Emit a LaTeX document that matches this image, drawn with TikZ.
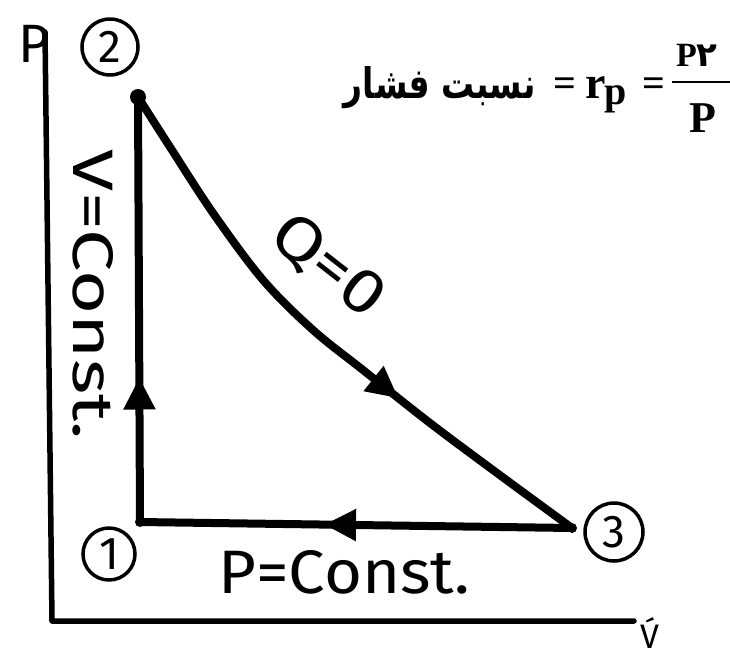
\documentclass[tikz,border=0pt]{standalone}
\usepackage{fontspec}
\usepackage{graphicx}
\usetikzlibrary{arrows.meta,decorations.markings}
\TeXXeTstate=1
\setmainfont{Liberation Serif}
\newfontfamily\handfont{Fira Sans}
\newfontfamily\arabicfont[Script=Arabic]{DejaVu Sans}
\newcommand\myfs[1]{\fontsize{#1}{#1}\selectfont}
\tikzset{
  axisline/.style={line width=5.5pt, line cap=round, line join=round},
  procline/.style={line width=8pt, line cap=round, line join=round},
  statecircle/.style={circle, draw, line width=3.5pt, inner sep=0pt, font=\handfont\myfs{46}},
  handlabel/.style={inner sep=0pt, font=\handfont\myfs{40}},
  toptext/.style={inner sep=0pt, font=\bfseries\myfs{40}},
  midarrow/.style={postaction={decorate}, decoration={markings, mark=at position #1 with {\arrow{Triangle[length=32pt,width=30pt]}}}},
}
\begin{document}
\begin{tikzpicture}[x=1pt,y=-1pt]
\useasboundingbox (0,0) rectangle (730,659);
% axes
\coordinate (ytop) at (45,32);
\coordinate (origin) at (52,621);
\coordinate (xend) at (634,621);
\draw[axisline] (ytop) -- (origin) -- (xend);
\node[handlabel, font=\handfont\myfs{54}] (plabel) at (34,44) {P};
\node[handlabel, anchor=base, font=\handfont\myfs{34}] (vlabel) at (650,648) {\'V};
% states
\coordinate (n2) at (138,97);
\coordinate (n1) at (140,522);
\coordinate (n3) at (572,528);
\node[statecircle, minimum size=56pt] (c2) at (110,47) {2};
\node[statecircle, minimum size=52pt] (c1) at (109,554) {1};
\node[statecircle, minimum size=58pt] (c3) at (614,532) {3};
% processes
\draw[procline, midarrow=0.34] (n1) -- (n2);
\draw[procline, midarrow=0.574] (n3) -- (n1);
\draw[procline, midarrow=0.65] plot[smooth, tension=0.55] coordinates {(n2) (170,147) (213,213) (263,280) (313,330) (363,370) (430,423) (497,473) (n3)};
\fill (n2) circle (8pt);
\fill (n1) circle (5pt);
\fill (n3) circle (5pt);
% hand labels
\node[handlabel, rotate=-90] (vconst) at (93,295) {\resizebox{290pt}{40pt}{V=Const.}};
\node[handlabel, anchor=base west] (pconst) at (218,593) {\resizebox{252pt}{43pt}{P=Const.}};
\node[handlabel, rotate=-38] (qzero) at (328,266) {\resizebox{128pt}{44pt}{Q=0}};
% top formula
\node[anchor=base east, inner sep=0pt] (fa) at (536,98) {\resizebox{192pt}{32pt}{\arabicfont\bfseries\beginR نسبت فشار\endR}};
\node[toptext, anchor=base] (eqa) at (565,96) {=};
\node[toptext, anchor=base west, font=\bfseries\myfs{46}] (rr) at (585,98) {r};
\node[toptext, anchor=base west] (pp) at (604,104) {p};
\node[toptext, anchor=base] (eqb) at (654,96) {=};
\node[toptext, anchor=base west, font=\bfseries\myfs{34}] (num) at (676,66) {P{\arabicfont\bfseries\myfs{34}۲}};
\coordinate (bara) at (672,82);
\coordinate (barb) at (730,82);
\draw[line width=2.5pt] (bara) -- (barb);
\node[toptext, anchor=base west, font=\bfseries\myfs{44}] (den) at (689,132) {P};
\end{tikzpicture}
\end{document}
